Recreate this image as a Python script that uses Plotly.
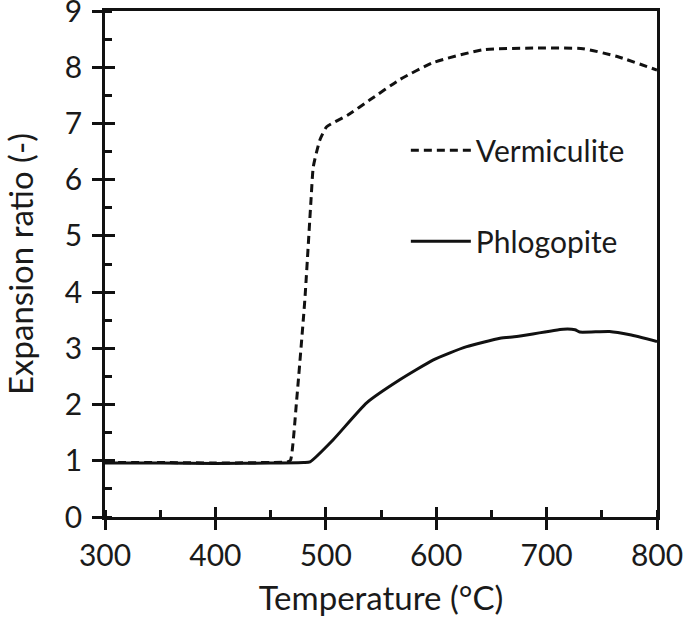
import plotly.graph_objects as go

# Expansion ratio vs temperature
verm_temp = [300, 350, 400, 450, 465, 468, 473.6, 481, 486.6, 488.7, 494.7, 500.8,
             520, 540, 567, 597, 642, 688, 733, 764, 800]
verm_ratio = [0.97, 0.97, 0.96, 0.97, 0.98, 1.01, 2.08, 3.86, 5.64, 6.23, 6.71, 6.94,
              7.15, 7.42, 7.78, 8.08, 8.31, 8.34, 8.33, 8.19, 7.95]

phlog_temp = [300, 350, 400, 450, 480, 485.7, 506.5, 537, 567, 597, 612.5, 627.6,
              657.8, 672.9, 715, 725.7, 730, 757, 775.5, 800]
phlog_ratio = [0.96, 0.96, 0.95, 0.96, 0.97, 0.98, 1.37, 2.03, 2.44, 2.79, 2.92, 3.03,
               3.18, 3.21, 3.34, 3.33, 3.29, 3.30, 3.24, 3.12]

font = dict(family='Lato, "Noto Sans", sans-serif', size=30, color='#1a1a1a')
title_font = dict(font, size=33)
ink = '#111111'

fig = go.Figure()

fig.add_trace(go.Scatter(
    x=verm_temp, y=verm_ratio, mode='lines', name='Vermiculite',
    line=dict(color=ink, width=3, dash='8px,5px', shape='spline', smoothing=0.5),
    legend='legend'
))
fig.add_trace(go.Scatter(
    x=phlog_temp, y=phlog_ratio, mode='lines', name='Phlogopite',
    line=dict(color=ink, width=3, shape='spline', smoothing=0.5),
    legend='legend2'
))
# invisible trace so the overlay axes (inner half of the crossing ticks) get drawn
fig.add_trace(go.Scatter(x=[300], y=[0], xaxis='x2', yaxis='y2', mode='markers',
                         marker=dict(opacity=0), showlegend=False, hoverinfo='skip'))

axis_common = dict(showgrid=False, zeroline=False, linecolor=ink, linewidth=2.5,
                   tickcolor=ink, tickwidth=2.5, tickfont=font, automargin=False,
                   ticklabeloverflow='allow')

fig.update_layout(
    width=685, height=622,
    margin=dict(l=105, r=28, t=11, b=105),
    plot_bgcolor='white', paper_bgcolor='white',
    font=font,
    xaxis=dict(range=[300, 800], dtick=100, ticks='outside', ticklen=10,
               showline=True, mirror=True,
               minor=dict(dtick=50, ticks='inside', ticklen=7, tickwidth=2.5, tickcolor=ink),
               title=dict(text='Temperature (°C)', font=title_font, standoff=17),
               **axis_common),
    yaxis=dict(range=[0, 9], dtick=1, ticks='outside', ticklen=10, ticklabelstandoff=4,
               showline=True, mirror=True,
               minor=dict(dtick=0.5, ticks='inside', ticklen=7, tickwidth=2.5, tickcolor=ink),
               title=dict(text='Expansion ratio (-)', font=title_font, standoff=24),
               **axis_common),
    xaxis2=dict(range=[300, 800], dtick=100, ticks='inside', ticklen=10, overlaying='x',
                showticklabels=False, showline=False, showgrid=False, zeroline=False,
                tickcolor=ink, tickwidth=2.5, automargin=False),
    yaxis2=dict(range=[0, 9], dtick=1, ticks='inside', ticklen=10, overlaying='y',
                showticklabels=False, showline=False, showgrid=False, zeroline=False,
                tickcolor=ink, tickwidth=2.5, automargin=False),
    legend=dict(x=0.545, y=0.725, xanchor='left', yanchor='middle', itemwidth=60,
                bgcolor='rgba(0,0,0,0)', font=font),
    legend2=dict(x=0.545, y=0.545, xanchor='left', yanchor='middle', itemwidth=60,
                 bgcolor='rgba(0,0,0,0)', font=font),
)

# drop the page's default 8px body margin so the figure sits at the window origin
fig.write_html("out.html", config={'displayModeBar': False},
               post_script="document.body.style.margin='0';")
